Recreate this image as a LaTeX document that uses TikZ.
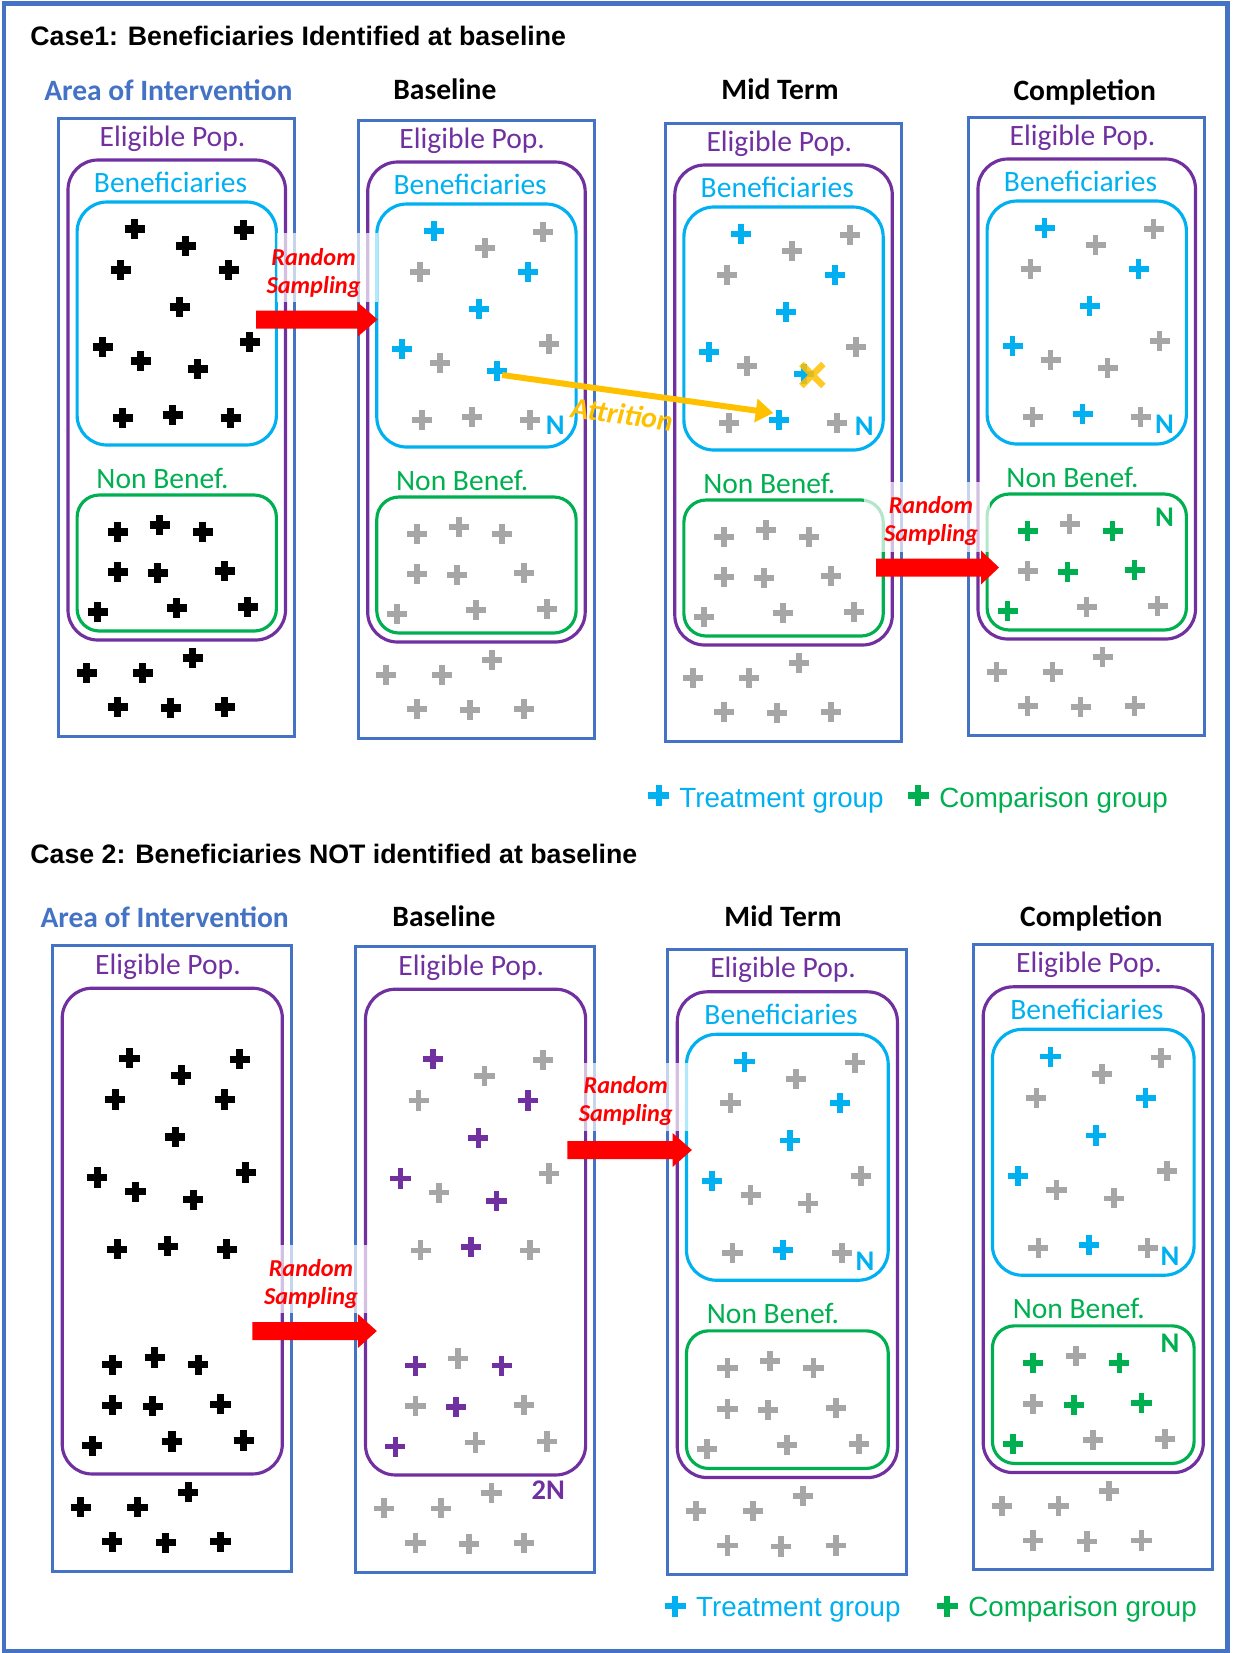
\documentclass[tikz,border=0pt]{standalone}
\usepackage{fontspec}
\setmainfont{Carlito}
\newfontfamily\arialfont{Liberation Sans}
\usetikzlibrary{arrows.meta}
\definecolor{AreaBlue}{HTML}{4472C4}
\definecolor{EligPurple}{HTML}{7030A0}
\definecolor{BenefCyan}{HTML}{00B0F0}
\definecolor{NonGreen}{HTML}{00B050}
\definecolor{PlusGray}{HTML}{A6A6A6}
\definecolor{SampleRed}{HTML}{FF0000}
\definecolor{AttrOrange}{HTML}{FFC000}

% cross positions inside one panel, from its top left corner
\def\benX{{76,185,127,62,170,121,44,191,82,139,64,114,172}}
\def\benY{{111,112,128,152,152,189,229,224,243,251,300,297,300}}
\def\nonX{{59,101,144,59,99,166,39,118,189}}
\def\nonY{{414,407,414,454,455,453,494,490,489}}
\def\outX{{28,84,134,59,112,166}}
\def\outY{{555,555,540,589,590,589}}

\newcommand{\plusset}[4]{%
  \foreach \i in {#4}{%
    \pgfmathsetmacro{\px}{#1[\i]}%
    \pgfmathsetmacro{\py}{#2[\i]}%
    \draw[plusline,#3] (\px-10,\py) -- (\px+10,\py) (\px,\py-10) -- (\px,\py+10);
  }}
\newcommand{\outerboxes}[1]{%
  \draw[panelbox] (0,0) rectangle (236,618);
  \draw[eligbox] (9.5,42) rectangle (227,522);
  \node[tag,text=EligPurple] (#1elig) at (114,28) {Eligible Pop.};
}
\newcommand{\innerboxes}[1]{%
  \draw[benefbox] (18.6,84) rectangle (217.9,327);
  \draw[nonbox] (18.6,377) rectangle (217.9,513);
  \node[tag,text=BenefCyan] (#1ben) at (112,74) {Beneficiaries};
  \node[tag,text=NonGreen] (#1non) at (104,370) {Non Benef.};
}
% tail x, head x, tip x, middle y
\newcommand{\samplearrow}[4]{%
  \fill[SampleRed] (#1,#4-9) -- (#2,#4-9) -- (#2,#4-17) -- (#3,#4)
    -- (#2,#4+17) -- (#2,#4+9) -- (#1,#4+9) -- cycle;}

\begin{document}
\begin{tikzpicture}[x=0.01cm,y=-0.01cm,
  panelbox/.style={draw=AreaBlue,line width=0.85pt},
  eligbox/.style={draw=EligPurple,line width=0.9pt,rounded corners=8.5pt},
  benefbox/.style={draw=BenefCyan,line width=0.9pt,rounded corners=8.5pt},
  nonbox/.style={draw=NonGreen,line width=0.9pt,rounded corners=6.3pt},
  plusline/.style={line width=1.6pt},
  blackplus/.style={black,line width=2pt},
  legplus/.style={line width=1.8pt},
  tag/.style={anchor=base,inner sep=0pt,font=\fontsize{8.4}{10}\selectfont},
  head/.style={anchor=base,inner sep=0pt,font=\bfseries\fontsize{8.4}{10}\selectfont},
  ntag/.style={anchor=base,inner sep=0pt,font=\bfseries\fontsize{8.1}{10}\selectfont},
  title/.style={anchor=base west,inner sep=0pt,font=\arialfont\bfseries\fontsize{7.6}{9}\selectfont},
  legend/.style={anchor=base west,inner sep=0pt,font=\arialfont\fontsize{7.9}{9}\selectfont},
  rs/.style={text=SampleRed,align=center,inner sep=0pt,font=\bfseries\itshape\fontsize{6.9}{8.1}\selectfont},
  band/.style={white,opacity=0.7}]
\path[use as bounding box] (0,0) rectangle (1232,1653);
\draw[AreaBlue,line width=1.3pt] (3.8,3.7) rectangle (1227.5,1651);

% Case 1
\node[title] (case1) at (29.7,45) {Case1: Beneficiaries Identified at baseline};
\node[head,text=AreaBlue] (h1area) at (168.4,100) {Area of Intervention};
\node[head] (h1base) at (444.9,99.3) {Baseline};
\node[head] (h1mid) at (780,99.3) {Mid Term};
\node[head] (h1end) at (1084.7,100) {Completion};

\begin{scope}[shift={(58.5,118)}]
  \outerboxes{ca}
  \innerboxes{ca}
  \plusset{\benX}{\benY}{blackplus}{0,...,12}
  \plusset{\nonX}{\nonY}{blackplus}{0,...,8}
  \plusset{\outX}{\outY}{blackplus}{0,...,5}
\end{scope}

\begin{scope}[shift={(358.2,120)}]
  \outerboxes{cb}
  \innerboxes{cb}
  \plusset{\benX}{\benY}{BenefCyan}{0,4,5,6,9}
  \plusset{\benX}{\benY}{PlusGray}{1,2,3,7,8,10,11,12}
  \plusset{\nonX}{\nonY}{PlusGray}{0,...,8}
  \plusset{\outX}{\outY}{PlusGray}{0,...,5}
  \coordinate (lostplus) at (139,251);
  \node[ntag,text=BenefCyan] (cbN) at (197,314) {N};
\end{scope}

\begin{scope}[shift={(665.3,123)}]
  \outerboxes{cc}
  \innerboxes{cc}
  \plusset{\benX}{\benY}{BenefCyan}{0,4,5,6,9,11}
  \plusset{\benX}{\benY}{PlusGray}{1,2,3,7,8,10,12}
  \plusset{\nonX}{\nonY}{PlusGray}{0,...,8}
  \plusset{\outX}{\outY}{PlusGray}{0,...,5}
  \coordinate (keptplus) at (114,297);
  \draw[AttrOrange,opacity=0.85,line width=1.8pt] (136,241) -- (158,263) (136,263) -- (158,241);
  \node[ntag,text=BenefCyan] (ccN) at (199,312) {N};
\end{scope}

\begin{scope}[shift={(968.5,117)}]
  \outerboxes{cd}
  \innerboxes{cd}
  \plusset{\benX}{\benY}{BenefCyan}{0,4,5,6,11}
  \plusset{\benX}{\benY}{PlusGray}{1,2,3,7,8,9,10,12}
  \plusset{\nonX}{\nonY}{NonGreen}{0,2,4,5,6}
  \plusset{\nonX}{\nonY}{PlusGray}{1,3,7,8}
  \plusset{\outX}{\outY}{PlusGray}{0,...,5}
  \node[ntag,text=BenefCyan] (cdN) at (196,316) {N};
  \node[ntag,text=NonGreen] (cdNg) at (196,409) {N};
\end{scope}

\fill[band] (277,233) rectangle (378,302);
\samplearrow{256.2}{357.9}{377.6}{319.5}
\node[rs] (rs1) at (313.6,273) {Random\\Sampling};

\fill[band] (864,482) rectangle (990,552);
\samplearrow{876}{981}{999}{567.5}
\node[rs] (rs2) at (931,521) {Random\\Sampling};

\draw[AttrOrange,line width=1.7pt,-{Triangle[length=5pt,width=6.5pt]}]
  ([shift={(5,4)}]lostplus) -- ([shift={(-6,-7)}]keptplus);
\node[rotate=-8,inner sep=0pt,text=AttrOrange,font=\bfseries\itshape\fontsize{8.4}{10}\selectfont] (attr) at (622,414) {Attrition};

\draw[legplus,BenefCyan] (648.3,795.5) -- (669.3,795.5) (658.8,785) -- (658.8,806);
\node[legend,text=BenefCyan] (leg1a) at (678.6,807.3) {Treatment group};
\draw[legplus,NonGreen] (907.5,795.5) -- (928.5,795.5) (918,785) -- (918,806);
\node[legend,text=NonGreen] (leg1b) at (938.6,807.3) {Comparison group};

% Case 2
\node[title] (case2) at (29.7,863.3) {Case 2: Beneficiaries NOT identified at baseline};
\node[head,text=AreaBlue] (h2area) at (164.7,927.3) {Area of Intervention};
\node[head] (h2base) at (444,926) {Baseline};
\node[head] (h2mid) at (783,926.7) {Mid Term};
\node[head] (h2end) at (1091.3,926.7) {Completion};

\begin{scope}[shift={(52.6,945.7)},scale=1.012]
  \outerboxes{da}
  \plusset{\benX}{\benY}{blackplus}{0,...,12}
  \plusset{\nonX}{\nonY}{blackplus}{0,...,8}
  \plusset{\outX}{\outY}{blackplus}{0,...,5}
\end{scope}

\begin{scope}[shift={(355.9,946.7)},scale=1.012]
  \outerboxes{db}
  \plusset{\benX}{\benY}{EligPurple}{0,4,5,6,9,11}
  \plusset{\benX}{\benY}{PlusGray}{1,2,3,7,8,10,12}
  \plusset{\nonX}{\nonY}{EligPurple}{0,2,4,6}
  \plusset{\nonX}{\nonY}{PlusGray}{1,3,5,7,8}
  \plusset{\outX}{\outY}{PlusGray}{0,...,5}
  \node[ntag,text=EligPurple] (db2N) at (190,546) {2N};
\end{scope}

\begin{scope}[shift={(667.7,949.3)},scale=1.012]
  \outerboxes{dc}
  \innerboxes{dc}
  \plusset{\benX}{\benY}{BenefCyan}{0,4,5,6,11}
  \plusset{\benX}{\benY}{PlusGray}{1,2,3,7,8,9,10,12}
  \plusset{\nonX}{\nonY}{PlusGray}{0,...,8}
  \plusset{\outX}{\outY}{PlusGray}{0,...,5}
  \node[ntag,text=BenefCyan] (dcN) at (195,317) {N};
\end{scope}

\begin{scope}[shift={(973.6,944.3)},scale=1.012]
  \outerboxes{dd}
  \innerboxes{dd}
  \plusset{\benX}{\benY}{BenefCyan}{0,4,5,6,11}
  \plusset{\benX}{\benY}{PlusGray}{1,2,3,7,8,9,10,12}
  \plusset{\nonX}{\nonY}{NonGreen}{0,2,4,5,6}
  \plusset{\nonX}{\nonY}{PlusGray}{1,3,7,8}
  \plusset{\outX}{\outY}{PlusGray}{0,...,5}
  \node[ntag,text=BenefCyan] (ddN) at (194,317) {N};
  \node[ntag,text=NonGreen] (ddNg) at (194,403) {N};
\end{scope}

\fill[band] (275,1245) rectangle (370,1313);
\samplearrow{252.3}{357.9}{376.8}{1331}
\node[rs] (rs3) at (311,1284) {Random\\Sampling};

\fill[band] (584,1063) rectangle (690,1131);
\samplearrow{567.4}{672.6}{691.9}{1150}
\node[rs] (rs4) at (625.8,1101) {Random\\Sampling};

\draw[legplus,BenefCyan] (664.7,1606.3) -- (685.7,1606.3) (675.2,1595.8) -- (675.2,1616.8);
\node[legend,text=BenefCyan] (leg2a) at (695.5,1616.7) {Treatment group};
\draw[legplus,NonGreen] (936.8,1606.3) -- (957.8,1606.3) (947.3,1595.8) -- (947.3,1616.8);
\node[legend,text=NonGreen] (leg2b) at (967.6,1616.7) {Comparison group};
\end{tikzpicture}
\end{document}
